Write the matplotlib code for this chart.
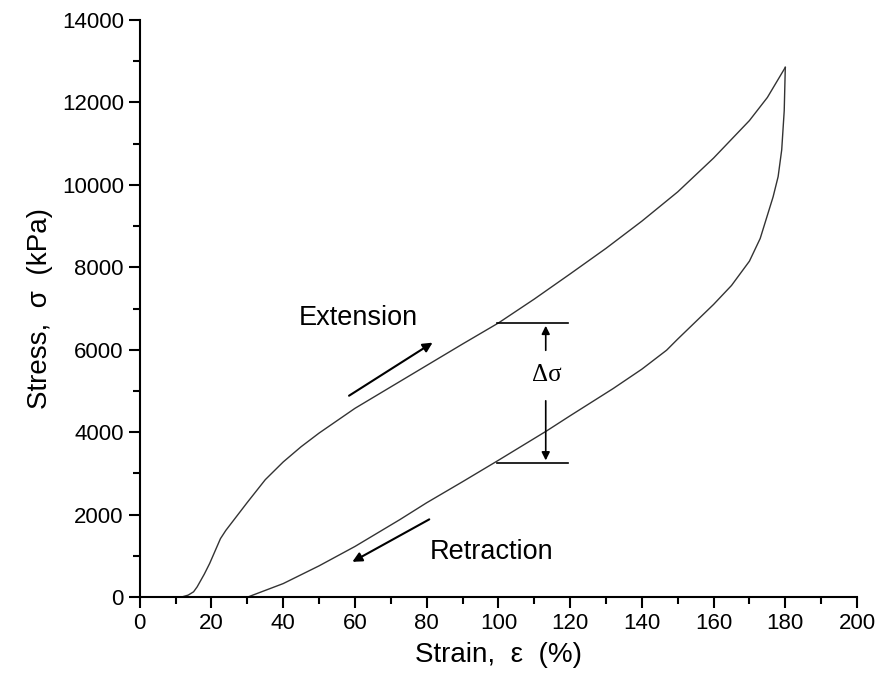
import numpy as np
import matplotlib.pyplot as plt
from matplotlib.ticker import MultipleLocator

plt.rcParams['font.family'] = ['Liberation Sans', 'DejaVu Sans']

# extension branch (strain %, stress kPa)
ext_x = [11.5, 13.5, 15, 16, 18, 19.5, 21, 22.5, 24, 25.5, 30, 35, 40, 45, 50,
         60, 70, 80, 90, 100, 110, 120, 130, 140, 150, 160, 170, 175, 180]
ext_y = [0, 50, 130, 250, 560, 820, 1120, 1420, 1620, 1790, 2300, 2850, 3280,
         3650, 3980, 4580, 5100, 5620, 6140, 6650, 7230, 7840, 8460, 9120,
         9830, 10650, 11560, 12120, 12850]

# retraction branch
ret_x = [180, 179.7, 179, 178, 176.6, 173, 170, 165, 160, 155, 150, 146.9,
         140, 132, 120, 113.4, 100, 90, 80, 72.5, 60, 50, 40, 30]
ret_y = [12850, 11800, 10850, 10200, 9710, 8700, 8150, 7560, 7100, 6680, 6260,
         5990, 5530, 5060, 4400, 4030, 3320, 2800, 2290, 1880, 1230, 760, 330, 0]

dsig_top = 6650
dsig_bot = 3250

fig = plt.figure(figsize=(8.79, 6.88), dpi=100)
ax = fig.add_axes([0.159, 0.132, 0.816, 0.839])

ax.plot(ext_x, ext_y, color='#333333', lw=1.0)
ax.plot(ret_x, ret_y, color='#333333', lw=1.0)

ax.set_xlim(0, 200)
ax.set_ylim(0, 14000)
ax.xaxis.set_major_locator(MultipleLocator(20))
ax.xaxis.set_minor_locator(MultipleLocator(10))
ax.yaxis.set_major_locator(MultipleLocator(2000))
ax.yaxis.set_minor_locator(MultipleLocator(1000))
ax.spines['top'].set_visible(False)
ax.spines['right'].set_visible(False)
for s in ['left', 'bottom']:
    ax.spines[s].set_linewidth(1.5)
ax.tick_params(which='major', direction='out', length=8, width=1.5, labelsize=16)
ax.tick_params(which='minor', direction='out', length=5, width=1.5)
ax.set_xlabel('Strain,  ε  (%)', fontsize=20, labelpad=6)
ax.set_ylabel('Stress,  σ  (kPa)', fontsize=20, labelpad=6)

# delta sigma annotation
ax.plot([99.5, 119.5], [dsig_top, dsig_top], color='black', lw=1.2)
ax.plot([99.5, 119.5], [dsig_bot, dsig_bot], color='black', lw=1.2)
ax.annotate('', xy=(113.2, dsig_top), xytext=(113.2, 5920),
            arrowprops=dict(arrowstyle='-|>', color='black', lw=1.2, mutation_scale=12))
ax.annotate('', xy=(113.2, dsig_bot), xytext=(113.2, 4830),
            arrowprops=dict(arrowstyle='-|>', color='black', lw=1.2, mutation_scale=12))
ax.text(113.5, 5390, 'Δσ', fontsize=18, ha='center', va='center',
        family=['Liberation Serif', 'DejaVu Serif'])

ax.annotate('', xy=(82.3, 6210), xytext=(57.7, 4850),
            arrowprops=dict(arrowstyle='-|>', color='black', lw=1.5, mutation_scale=14))
ax.text(61, 6770, 'Extension', fontsize=19.5, ha='center', va='center')
ax.annotate('', xy=(58.6, 825), xytext=(81.4, 1920),
            arrowprops=dict(arrowstyle='-|>', color='black', lw=1.5, mutation_scale=14))
ax.text(98, 1100, 'Retraction', fontsize=19.5, ha='center', va='center')

fig.savefig('out.png', dpi=100)
